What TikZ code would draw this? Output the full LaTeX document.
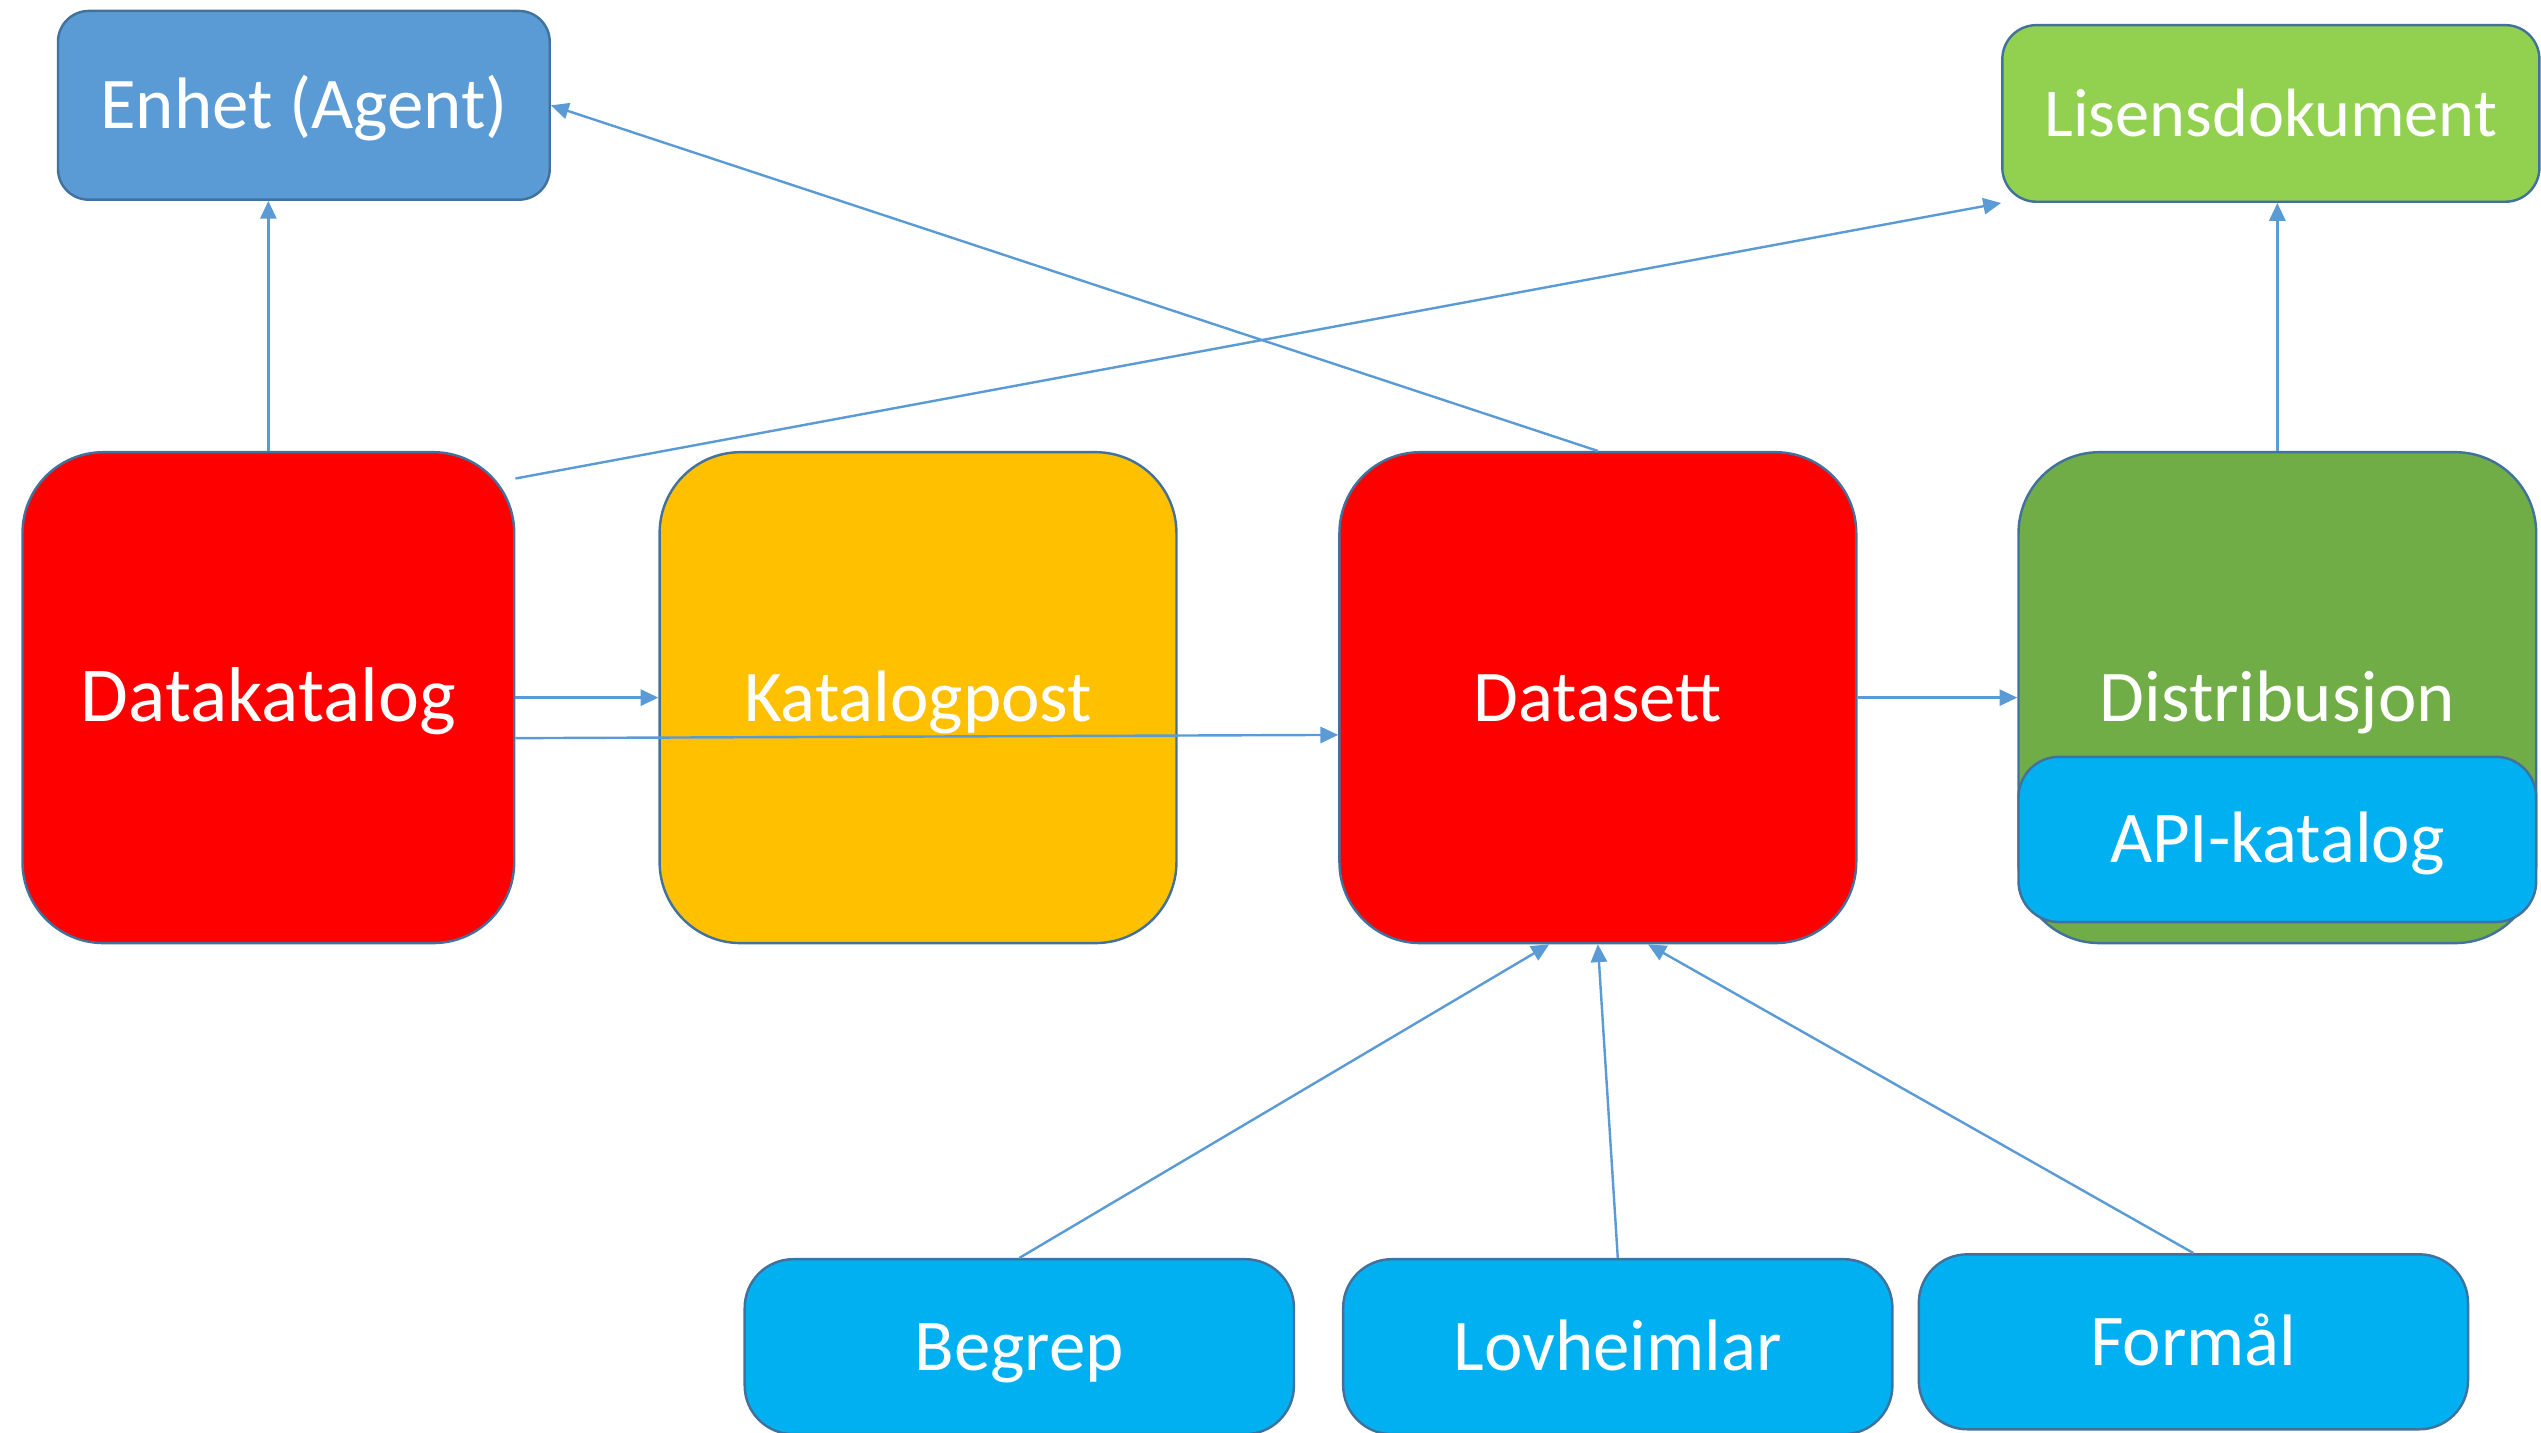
\documentclass[tikz,border=0pt]{standalone}
\usepackage{fontspec}
\setmainfont{Carlito}
\usetikzlibrary{arrows.meta,calc}
\definecolor{linkblue}{HTML}{5B9BD5}
\definecolor{rimblue}{HTML}{41719C}
\definecolor{dkred}{HTML}{FF0000}
\definecolor{kporange}{HTML}{FFC000}
\definecolor{disgreen}{HTML}{70AD47}
\definecolor{lisgreen}{HTML}{92D050}
\definecolor{apicyan}{HTML}{00B0F0}

\begin{document}
\begin{tikzpicture}[x=0.02cm,y=-0.02cm,>={Triangle[length=0.22cm,width=0.2cm]}]
        \tikzstyle{box}=[rectangle,draw=rimblue,line width=0.85pt,text=white,inner sep=0pt,text height=16.5pt,text depth=0pt,font=\fontsize{25.6}{30}\selectfont]
        \tikzstyle{bigbox}=[box,minimum width=6.38cm,minimum height=6.06cm,rounded corners=1cm]
        \tikzstyle{smallbox}=[box,minimum width=6.78cm,minimum height=2.16cm,rounded corners=0.6cm,fill=apicyan]
        \tikzstyle{edge}=[draw=linkblue,line width=0.85pt,->]
        \useasboundingbox (0,0) rectangle (1568,884);
       \begin{scope}
         \node [box,fill=linkblue,minimum width=6.07cm,minimum height=2.33cm,rounded corners=0.38cm] (en) at (187.5,65) {Enhet (Agent)};
         \node [box,fill=lisgreen,minimum width=6.63cm,minimum height=2.18cm,rounded corners=0.42cm,font=\fontsize{24}{28}\selectfont] (lis) at (1401.3,70) {Lisensdokument};

         \node [bigbox,fill=dkred,minimum width=6.07cm,font=\fontsize{27.3}{32}\selectfont] (dk) at (165.6,430.5) {Datakatalog};
         \node [bigbox,fill=kporange] (kp) at (566.5,430.5) {Katalogpost};
         \node [bigbox,fill=dkred] (ds) at (986,430.5) {Datasett};
         \node [bigbox,fill=disgreen,minimum width=6.39cm] (dis) at (1405.3,430.5) {Distribusjon};
         \node [smallbox,minimum width=6.39cm,minimum height=2.04cm,rounded corners=0.5cm] (api) at (1405.3,518) {API-katalog};

         \node [smallbox] (beg) at (629,831) {Begrep};
         \node [smallbox] (lov) at (998.3,831) {Lovheimlar};
         \node [smallbox] (form) at (1353.5,828) {Formål};

         \path (dk.north) edge [edge] (dk.north |- en.south);
         \path (ds.north) edge [edge] (en.east);
         \path ($(dk.north east)+(0,17)$) edge [edge] (lis.south west);
         \path (dis.north) edge [edge] (dis.north |- lis.south);
         \path (dk.east) edge [edge] (kp.west);
         \path ($(dk.east)+(0,25)$) edge [edge] ($(ds.west)+(0,23)$);
         \path (ds.east) edge [edge] (dis.west);
         \path (beg.north) edge [edge] ($(ds.south)+(-30,0)$);
         \path (lov.north) edge [edge] (ds.south);
         \path (form.north) edge [edge] ($(ds.south)+(31,0)$);
        \end{scope}
      \end{tikzpicture}
\end{document}
